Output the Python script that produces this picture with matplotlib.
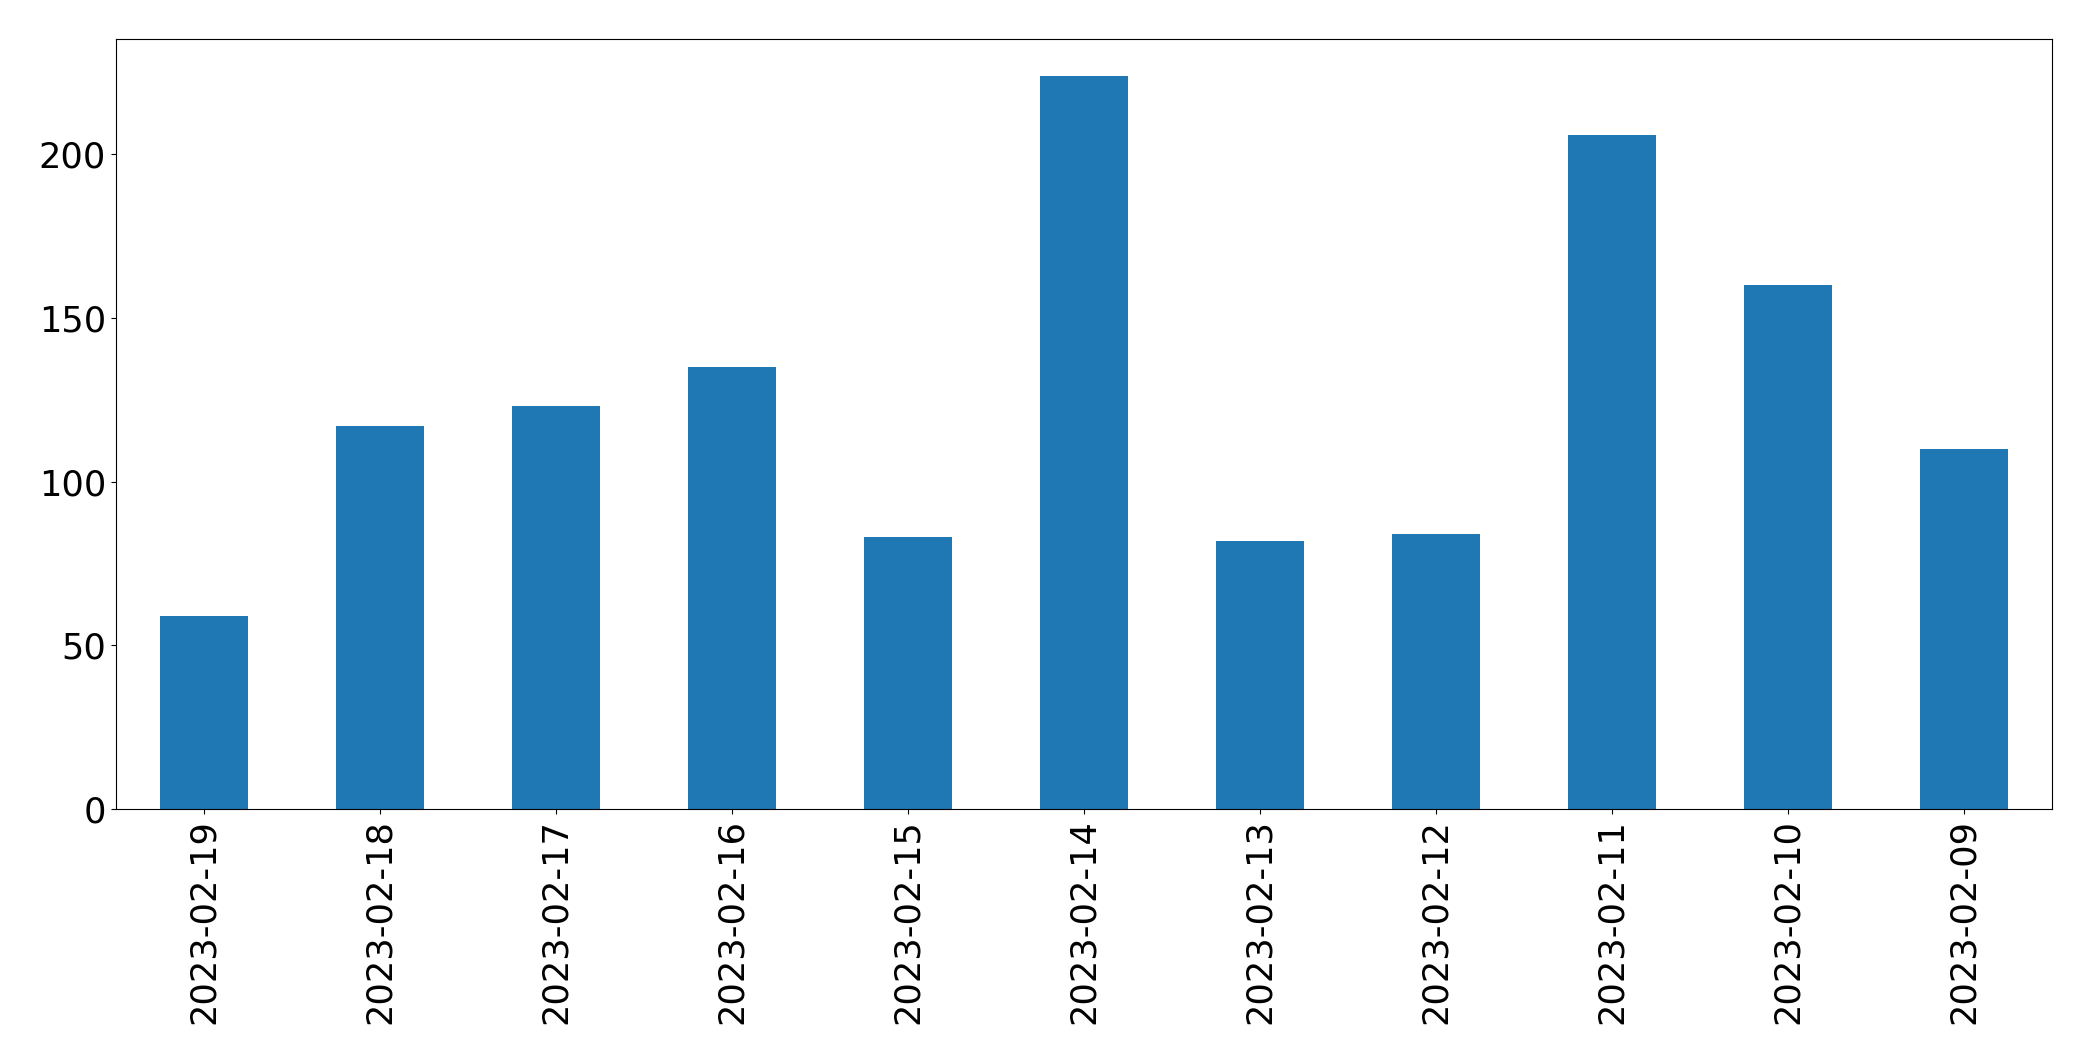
import matplotlib
matplotlib.use("Agg")
import matplotlib.pyplot as plt
import pandas as pd

dates = ["2023-02-19", "2023-02-18", "2023-02-17", "2023-02-16", "2023-02-15",
         "2023-02-14", "2023-02-13", "2023-02-12", "2023-02-11", "2023-02-10",
         "2023-02-09"]
counts = [59, 117, 123, 135, 83, 224, 82, 84, 206, 160, 110]

series = pd.Series(counts, index=dates)

fig, ax = plt.subplots(figsize=(20.93, 10.61), dpi=100)
series.plot(kind="bar", ax=ax, color="#1f77b4", fontsize=25.3)
ax.tick_params(axis="x", labelrotation=90)
fig.subplots_adjust(left=0.0554, right=0.9804, top=0.9632, bottom=0.2375)
fig.savefig("out.png", dpi=100)
